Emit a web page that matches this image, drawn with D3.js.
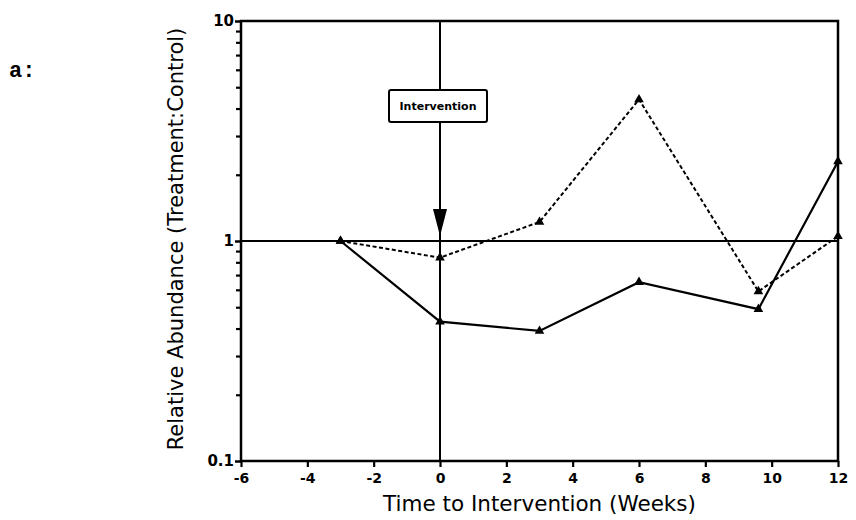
<!DOCTYPE html>
<html><head><meta charset="utf-8">
<script src="https://cdn.jsdelivr.net/npm/d3@7"></script>
<style>body{margin:0;background:#fff}svg{display:block}</style>
</head><body>
<script>
const weeks = [-3, 0, 3, 6, 9.6, 12];
const solidSeries = [1, 0.43, 0.39, 0.65, 0.49, 2.3];
const dashedSeries = [1, 0.84, 1.22, 4.4, 0.59, 1.05];
const xTicks = [-6, -4, -2, 0, 2, 4, 6, 8, 10, 12];
const yMajorTicks = [0.1, 1, 10];
const yMinorTicks = [0.2,0.3,0.4,0.5,0.6,0.7,0.8,0.9,2,3,4,5,6,7,8,9];
const interventionWeek = 0;
const referenceLevel = 1;

const W = 856, H = 520;
const m = {left: 241, right: 18, top: 21, bottom: 59};
const svg = d3.select("body").append("svg").attr("width", W).attr("height", H);
const x = d3.scaleLinear().domain([-6, 12]).range([m.left, W - m.right]);
const y = d3.scaleLog().domain([0.1, 10]).range([H - m.bottom, m.top]);
const font = "'DejaVu Sans', Arial, sans-serif";

// frame
svg.append("rect").attr("x", x(-6)).attr("y", y(10)).attr("width", x(12) - x(-6)).attr("height", y(0.1) - y(10))
  .attr("fill", "none").attr("stroke", "#000").attr("stroke-width", 2.5);

// y axis
const yAx = svg.append("g").attr("transform", `translate(${x(-6)},0)`)
  .call(d3.axisLeft(y).tickValues(yMajorTicks).tickFormat(d => d3.format("~g")(d)).tickSize(6).tickPadding(1));
yAx.select(".domain").remove();
yAx.selectAll("line").attr("stroke-width", 2.5);
yAx.selectAll("text").style("font-family", font).style("font-weight", "bold").style("font-size", "15px");
const yMin = svg.append("g").attr("transform", `translate(${x(-6)},0)`)
  .call(d3.axisLeft(y).tickValues(yMinorTicks).tickFormat("").tickSize(5));
yMin.select(".domain").remove();
yMin.selectAll("line").attr("stroke-width", 2.2);

// x axis
const xAx = svg.append("g").attr("transform", `translate(0,${y(0.1)})`)
  .call(d3.axisBottom(x).tickValues(xTicks).tickFormat(d => String(d)).tickSize(6).tickPadding(6));
xAx.select(".domain").remove();
xAx.selectAll("line").attr("stroke-width", 2.2);
xAx.selectAll("text").style("font-family", font).style("font-weight", "bold").style("font-size", "14px");

// axis titles
svg.append("text").attr("x", (x(-6) + x(12)) / 2).attr("y", 511).attr("text-anchor", "middle")
  .style("font-family", font).style("font-size", "21.5px").text("Time to Intervention (Weeks)");
svg.append("text").attr("transform", `translate(183,${(y(0.1) + y(10)) / 2 - 2}) rotate(-90)`).attr("text-anchor", "middle")
  .style("font-family", font).style("font-size", "21px").text("Relative Abundance (Treatment:Control)");

// panel label
svg.append("text").attr("x", 9).attr("y", 77).style("font-family", "'Liberation Mono', 'Courier New', monospace")
  .style("font-weight", "bold").style("font-size", "22px").text("a:");

// reference line at 1
svg.append("line").attr("x1", x(-6)).attr("x2", x(12)).attr("y1", y(referenceLevel)).attr("y2", y(referenceLevel))
  .attr("stroke", "#000").attr("stroke-width", 2);

// intervention vertical line and arrow
const xi = x(interventionWeek);
svg.append("line").attr("x1", xi).attr("x2", xi).attr("y1", y(10)).attr("y2", y(0.1)).attr("stroke", "#000").attr("stroke-width", 2);
const arrowTip = y(referenceLevel) - 5;
svg.append("path").attr("d", `M${xi - 7},${arrowTip - 27} L${xi + 7},${arrowTip - 27} L${xi},${arrowTip} Z`).attr("fill", "#000");
const bw = 98, bh = 32, by = 90;
svg.append("rect").attr("x", xi - 51).attr("y", by).attr("width", bw).attr("height", bh).attr("rx", 2)
  .attr("fill", "#fff").attr("stroke", "#000").attr("stroke-width", 2);
svg.append("text").attr("x", xi - 51 + bw / 2).attr("y", by + bh / 2 + 4).attr("text-anchor", "middle")
  .style("font-family", font).style("font-weight", "bold").style("font-size", "11px").text("Intervention");

// series
const line = d3.line().x((d, i) => x(weeks[i])).y(d => y(d));
svg.append("path").datum(solidSeries).attr("d", line).attr("fill", "none").attr("stroke", "#000").attr("stroke-width", 2.2);
svg.append("path").datum(dashedSeries).attr("d", line).attr("fill", "none").attr("stroke", "#000").attr("stroke-width", 2)
  .attr("stroke-dasharray", "4,2.5");

const tri = d3.symbol().type(d3.symbolTriangle).size(40);
[solidSeries, dashedSeries].forEach(s => {
  svg.append("g").selectAll("path").data(s).join("path")
    .attr("transform", (d, i) => `translate(${x(weeks[i])},${y(d)})`).attr("d", tri).attr("fill", "#000");
});
</script>
</body></html>
